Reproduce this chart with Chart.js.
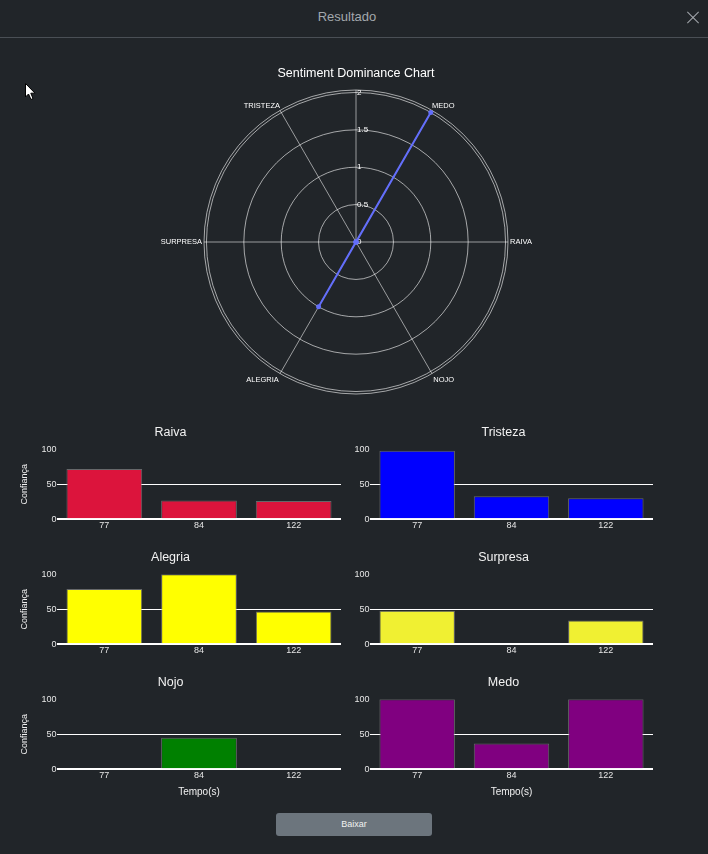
<!DOCTYPE html>
<html><head><meta charset="utf-8">
<script src="https://cdn.jsdelivr.net/npm/chart.js@4.4.1/dist/chart.umd.min.js"></script>
<style>
html,body{margin:0;padding:0;background:#212529;width:708px;height:854px;overflow:hidden;font-family:"Liberation Sans",Arial,sans-serif;}
#hdr{position:absolute;left:0;top:0;width:708px;height:37px;border-bottom:1px solid #4a4f55;}
#hdrTitle{position:absolute;left:0;top:0;width:694px;line-height:34px;text-align:center;color:#a3a8ad;font-size:13px;}
.xl{position:absolute;left:685px;top:17px;width:16px;height:1px;background:#a3a8ad;}
canvas{position:absolute;display:block;}
#btn{position:absolute;left:276px;top:813px;width:156px;height:23px;background:#6c757d;border-radius:3px;color:#f2f2f2;font-size:9px;line-height:23px;text-align:center;}
</style></head>
<body>
<div id="hdr"><div id="hdrTitle">Resultado</div><div class="xl" style="transform:rotate(45deg)"></div><div class="xl" style="transform:rotate(-45deg)"></div></div>
<svg style="position:absolute;left:24px;top:82px" width="13" height="19"><path d="M1.5 1.5 L1.5 15 L4.5 12 L7 17.5 L9 16.5 L6.8 11.2 L11 11.2 Z" fill="#fff" stroke="#000" stroke-width="1"/></svg>
<canvas id="radar" width="600" height="338" style="left:56px;top:60px;width:600px;height:338px"></canvas>
<canvas id="c1" width="354" height="125" style="left:0;top:415px;width:354px;height:125px"></canvas>
<canvas id="c2" width="354" height="125" style="left:354px;top:415px;width:354px;height:125px"></canvas>
<canvas id="c3" width="354" height="125" style="left:0;top:540px;width:354px;height:125px"></canvas>
<canvas id="c4" width="354" height="125" style="left:354px;top:540px;width:354px;height:125px"></canvas>
<canvas id="c5" width="354" height="133" style="left:0;top:665px;width:354px;height:133px"></canvas>
<canvas id="c6" width="354" height="133" style="left:354px;top:665px;width:354px;height:133px"></canvas>
<div id="btn">Baixar</div>
<script>
// ---- data ----
const timeLabels = ['77', '84', '122'];
const raiva    = [72, 27, 26];
const tristeza = [98, 33, 30];
const alegria  = [79, 100, 47];
const surpresa = [48, 0, 34];
const nojo     = [0, 45, 0];
const medo     = [100, 37, 100];
const yTicks = [0, 50, 100];

// radar categories counter-clockwise from 0 degrees (right)
const radarCategories = ['RAIVA', 'MEDO', 'TRISTEZA', 'SURPRESA', 'ALEGRIA', 'NOJO'];
const radarValues     = [0, 2, 0, 0, 1, 0];
const radarTicks      = [0, 0.5, 1, 1.5, 2];
const radarMax = 2.033;

const FONT = '"Liberation Sans", Arial, sans-serif';
Chart.defaults.font.family = FONT;
Chart.defaults.color = '#e6e6e6';

// ---- radar (12 slots at 30deg, categories on every other slot) ----
const SLOTS = 12;
const slotLabels = new Array(SLOTS).fill('');
const slotValues = new Array(SLOTS).fill(null);
radarCategories.forEach((c, i) => {
  const slot = ((((90 - 60 * i) % 360) + 360) % 360) / 30;
  slotLabels[slot] = c;
  slotValues[slot] = radarValues[i];
});

const mctx = document.createElement('canvas').getContext('2d');
mctx.font = '8px ' + FONT;
function padTick(s) {
  const w = mctx.measureText(s).width, sw = mctx.measureText(' ').width;
  return ' '.repeat(Math.max(0, Math.round((w + 3) / sw))) + s;
}
const labelPad = {1: -4, 11: -4, 3: -2, 9: -2, 5: -1.5, 7: -1.5};

new Chart(document.getElementById('radar'), {
  type: 'radar',
  data: {
    labels: slotLabels,
    datasets: [{
      data: slotValues,
      spanGaps: true,
      fill: false,
      borderColor: '#636efa',
      backgroundColor: '#636efa',
      borderWidth: 2,
      pointRadius: 2.5,
      pointBorderWidth: 0,
      pointBackgroundColor: '#636efa',
      tension: 0
    }]
  },
  options: {
    responsive: false, animation: false, devicePixelRatio: 1,
    plugins: {
      legend: {display: false}, tooltip: {enabled: false},
      title: {display: true, text: 'Sentiment Dominance Chart', color: '#ffffff',
              font: {size: 12.5, weight: 'normal'}, padding: {top: 6, bottom: 5}}
    },
    scales: {
      r: {
        min: -0.001, max: radarMax, startAngle: 0,
        afterBuildTicks: s => { s.ticks = radarTicks.concat([radarMax]).map(v => ({value: v})); },
        ticks: {
          display: true, showLabelBackdrop: false, backdropPadding: 0,
          color: '#ffffff', font: {size: 8},
          callback: v => (v === radarMax ? '' : padTick(String(v)))
        },
        grid: {
          circular: true,
          color: c => (c.tick && c.tick.value === 0 ? 'rgba(0,0,0,0)' : 'rgba(255,255,255,0.6)'),
          lineWidth: 1
        },
        angleLines: {
          display: true, color: 'rgba(255,255,255,0.55)',
          lineWidth: c => ((c.index === 0 || c.label) ? 1 : 0)
        },
        pointLabels: {
          display: true, color: '#ffffff',
          font: c => (c.label ? {size: 7.5} : {size: 7.5, lineHeight: 0}),
          padding: c => (c.label ? labelPad[c.index] : -10)
        }
      }
    }
  }
});

// ---- bar charts ----
function barChart(id, title, values, color, cfg) {
  new Chart(document.getElementById(id), {
    type: 'bar',
    data: {
      labels: timeLabels,
      datasets: [{
        data: values, backgroundColor: color,
        borderColor: 'rgba(160,160,160,0.55)', borderWidth: 1,
        categoryPercentage: 0.8, barPercentage: 1
      }]
    },
    options: {
      responsive: false, animation: false, devicePixelRatio: 1,
      layout: {padding: {left: 0, right: cfg.padRight, top: 0, bottom: 0}},
      plugins: {
        legend: {display: false}, tooltip: {enabled: false},
        title: {display: true, text: title, color: '#f2f2f2',
                font: {size: 12.5, weight: 'normal'}, padding: {top: 10.5, bottom: 8.8}}
      },
      scales: {
        x: {
          grid: {display: false, drawTicks: false}, border: {display: false},
          ticks: {color: '#e6e6e6', font: {size: 9}, padding: 0.5, maxRotation: 0, autoSkip: false},
          title: {display: cfg.xTitle, text: 'Tempo(s)', color: '#f0f0f0', font: {size: 10}, padding: {top: 0, bottom: 0}},
          afterFit: s => { s.height = cfg.xH; }
        },
        y: {
          min: 0, max: 100,
          afterBuildTicks: s => { s.ticks = yTicks.map(v => ({value: v})); },
          grid: {
            drawTicks: false,
            color: c => (c.tick && c.tick.value === 100 ? 'rgba(0,0,0,0)' : '#ffffff'),
            lineWidth: c => (c.tick && c.tick.value === 0 ? 2 : 1)
          },
          border: {display: false},
          ticks: {color: '#e6e6e6', font: {size: 9}, padding: 0.5},
          title: {display: cfg.yTitle, text: 'Confiança', color: '#f0f0f0', font: {size: 9}, padding: {top: 19.6, bottom: 0}},
          afterFit: s => { s.width = cfg.yW; }
        }
      }
    }
  });
}

const leftCol  = {yW: 57, padRight: 13, yTitle: true};
const rightCol = {yW: 16, padRight: 55, yTitle: false};
barChart('c1', 'Raiva',    raiva,    '#dc143c', Object.assign({}, leftCol,  {xH: 20.7, xTitle: false}));
barChart('c2', 'Tristeza', tristeza, '#0000ff', Object.assign({}, rightCol, {xH: 20.7, xTitle: false}));
barChart('c3', 'Alegria',  alegria,  '#ffff00', Object.assign({}, leftCol,  {xH: 20.7, xTitle: false}));
barChart('c4', 'Surpresa', surpresa, '#f0f032', Object.assign({}, rightCol, {xH: 20.7, xTitle: false}));
barChart('c5', 'Nojo',     nojo,     '#008000', Object.assign({}, leftCol,  {xH: 28.7, xTitle: true}));
barChart('c6', 'Medo',     medo,     '#800080', Object.assign({}, rightCol, {xH: 28.7, xTitle: true}));
</script>
</body></html>
